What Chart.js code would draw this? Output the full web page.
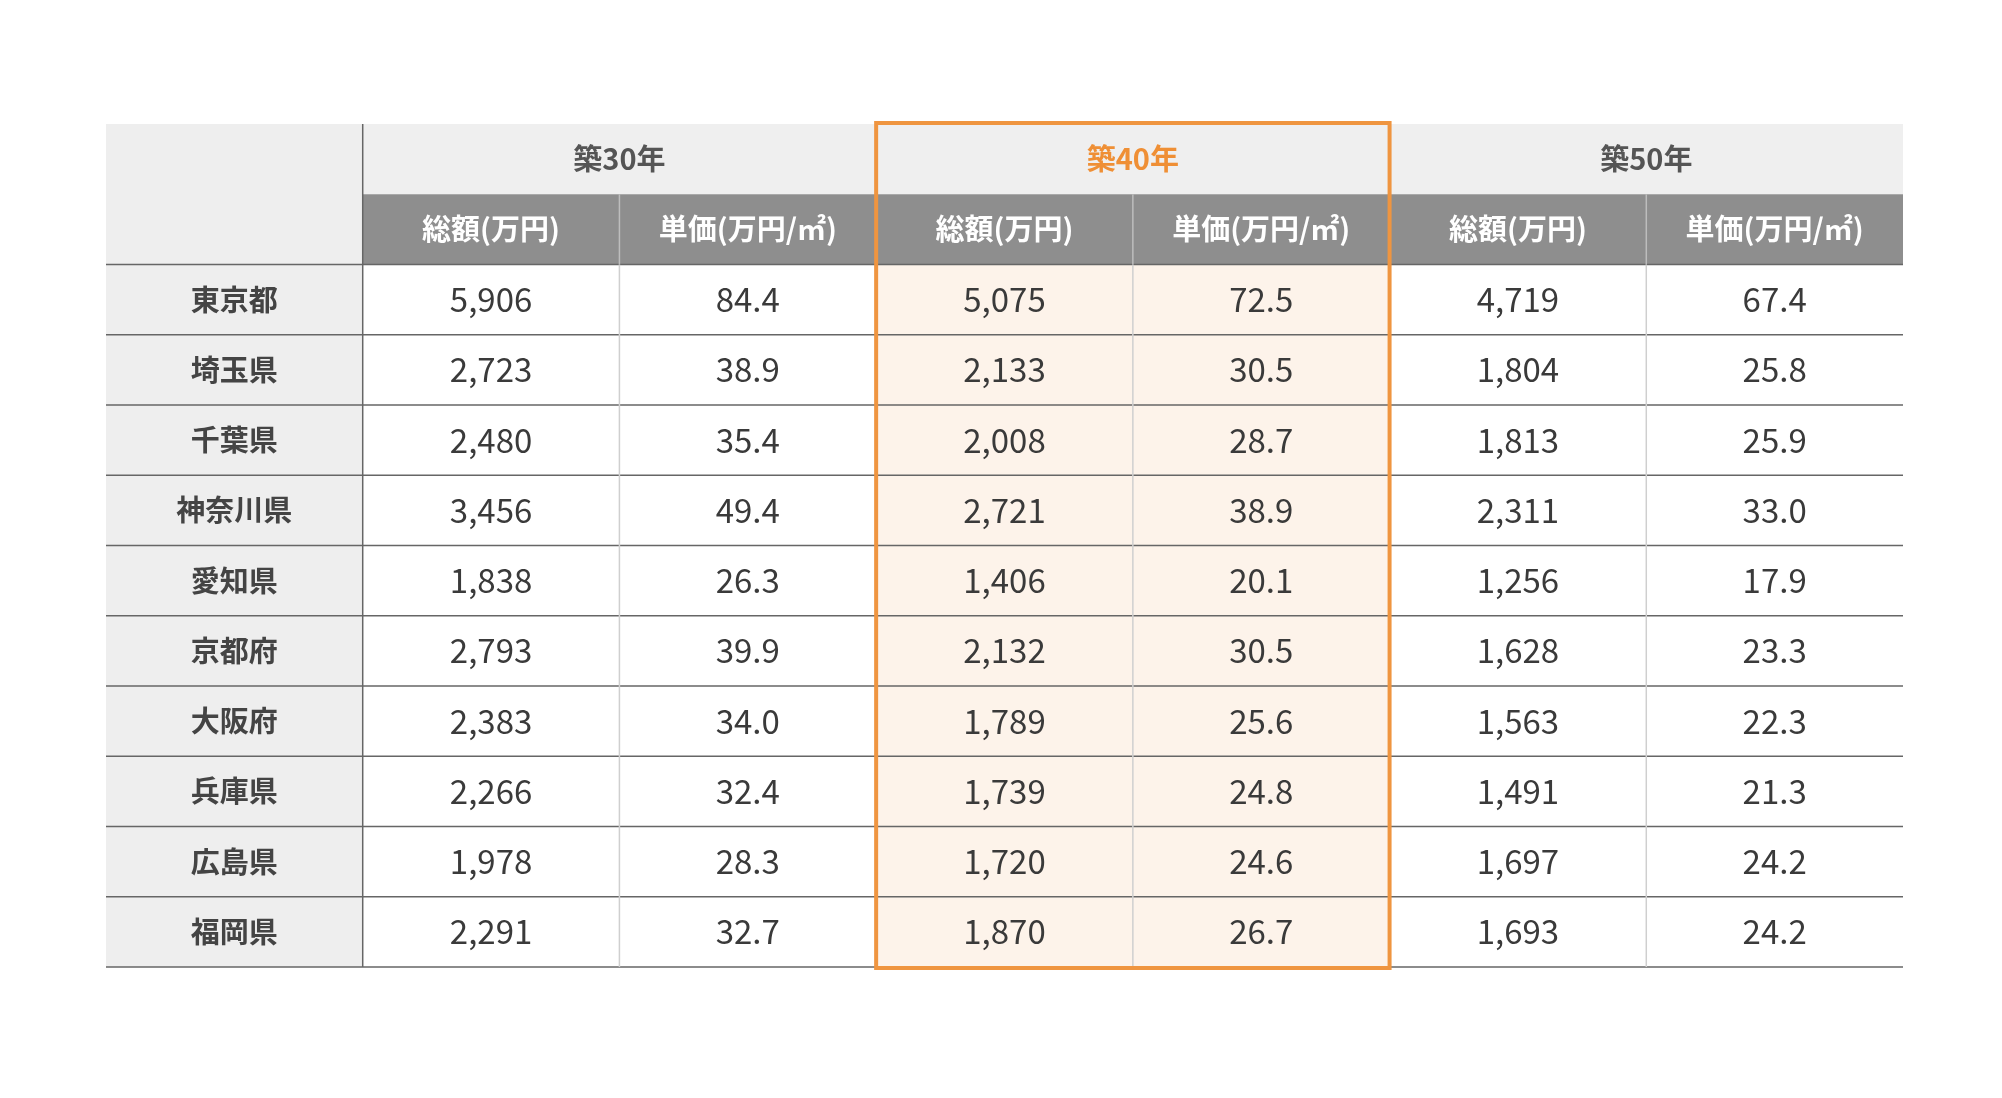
<!DOCTYPE html>
<html><head><meta charset="utf-8">
<script src="https://cdn.jsdelivr.net/npm/chart.js@4"></script>
<style>html,body{margin:0;background:#fff}#wrap{width:2002px;height:1098px}</style>
</head><body><div id="wrap"><canvas id="c"></canvas></div>
<script>
const prefectures = ["東京都","埼玉県","千葉県","神奈川県","愛知県","京都府","大阪府","兵庫県","広島県","福岡県"];
const years = ["築30年","築40年","築50年"];
const subHeaders = ["総額(万円)","単価(万円/㎡)"];
const total30 = [5906,2723,2480,3456,1838,2793,2383,2266,1978,2291];
const unit30  = [84.4,38.9,35.4,49.4,26.3,39.9,34.0,32.4,28.3,32.7];
const total40 = [5075,2133,2008,2721,1406,2132,1789,1739,1720,1870];
const unit40  = [72.5,30.5,28.7,38.9,20.1,30.5,25.6,24.8,24.6,26.7];
const total50 = [4719,1804,1813,2311,1256,1628,1563,1491,1697,1693];
const unit50  = [67.4,25.8,25.9,33.0,17.9,23.3,22.3,21.3,24.2,24.2];
const highlightYear = 1;

const columns = [total30, unit30, total40, unit40, total50, unit50];
const FONT = '"Noto Sans CJK JP","Noto Sans",sans-serif';

// one point per value cell: x = column index + 1, y = row index + 2 (two header rows)
const points = [];
columns.forEach((col, ci) => col.forEach((v, ri) => points.push({x: ci + 1.5, y: ri + 2.5, v, dec: ci % 2 === 1})));

const tablePlugin = {
  id: "table",
  beforeDatasetsDraw(chart) {
    const ctx = chart.ctx, xs = chart.scales.x, ys = chart.scales.y;
    const X = (v) => xs.getPixelForValue(v), Y = (v) => ys.getPixelForValue(v);
    const rect = (x0, y0, x1, y1, c) => { ctx.fillStyle = c; ctx.fillRect(X(x0), Y(y0), X(x1) - X(x0), Y(y1) - Y(y0)); };
    const text = (s, x, y, font, c) => { ctx.font = font; ctx.fillStyle = c; ctx.textAlign = "center"; ctx.textBaseline = "middle"; ctx.fillText(s, X(x), Y(y)); };
    const line = (x0, y0, x1, y1, c, w) => { ctx.strokeStyle = c; ctx.lineWidth = w; ctx.beginPath(); ctx.moveTo(X(x0), Y(y0)); ctx.lineTo(X(x1), Y(y1)); ctx.stroke(); };
    const rows = prefectures.length + 2;
    ctx.save();
    // backgrounds
    rect(0, 0, 1, rows, "#eeeeee");
    rect(1, 0, 7, 1, "#efefef");
    rect(1, 1, 7, 2, "#8e8e8e");
    const hx = 1 + highlightYear * 2;
    rect(hx, 2, hx + 2, rows, "#fdf3ea");
    // grid
    for (let r = 2; r <= rows; r++) line(0, r, 7, r, "#666", 1.5);
    line(1, 0, 1, rows, "#666", 1.5);
    for (let c = 2; c < 7; c++) {
      line(c, 2, c, rows, "#cfcfcf", 1.5);
      line(c, 1, c, 2, "#bdbdbd", 1.5);
    }
    line(3, 0, 3, 1, "#d6d6d6", 1.5);
    line(5, 0, 5, 1, "#d6d6d6", 1.5);
    // headers
    years.forEach((y, i) => text(y, 2 + i * 2, 0.5, "bold 29px " + FONT, i === highlightYear ? "#ef8f35" : "#555"));
    for (let c = 0; c < 6; c++) text(subHeaders[c % 2], c + 1.5, 1.5, "bold 29px " + FONT, "#fff");
    prefectures.forEach((p, i) => text(p, 0.5, i + 2.5, "bold 29px " + FONT, "#444"));
    // values
    chart.data.datasets[0].data.forEach((d) =>
      text(d.dec ? d.v.toFixed(1) : d.v.toLocaleString("en-US"), d.x, d.y, "33px " + FONT, "#3a3a3a"));
    // highlight border
    ctx.strokeStyle = "#ef9540"; ctx.lineWidth = 4;
    ctx.strokeRect(X(hx), Y(0) - 1, X(hx + 2) - X(hx), Y(rows) - Y(0) + 2);
    ctx.restore();
  }
};

new Chart(document.getElementById("c"), {
  type: "scatter",
  data: { datasets: [{ data: points, pointRadius: 0 }] },
  options: {
    responsive: true, maintainAspectRatio: false, animation: false,
    layout: { padding: { left: 106, right: 99, top: 124, bottom: 131 } },
    plugins: { legend: { display: false }, tooltip: { enabled: false } },
    scales: {
      x: { type: "linear", min: 0, max: 7, display: false },
      y: { type: "linear", min: 0, max: 12, reverse: true, display: false }
    }
  },
  plugins: [tablePlugin]
});
</script></body></html>
